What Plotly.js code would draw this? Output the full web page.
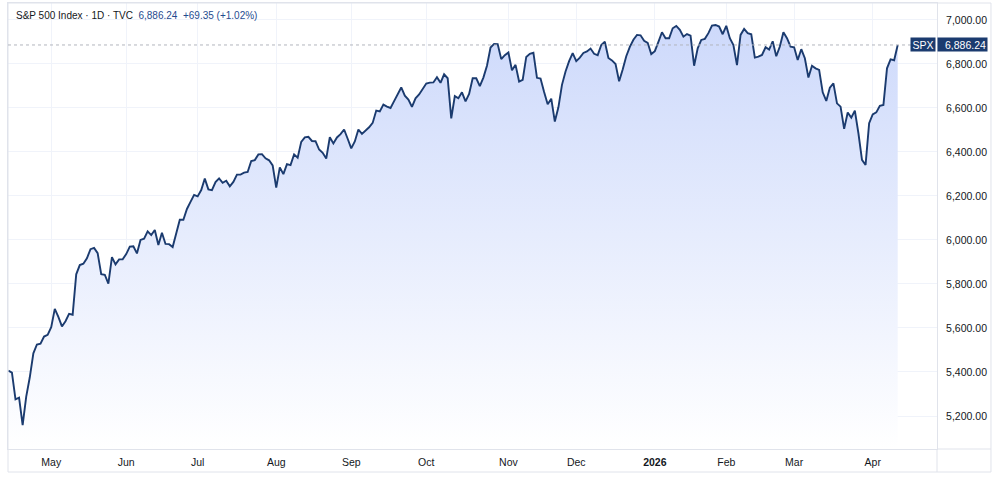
<!DOCTYPE html>
<html>
<head>
<meta charset="utf-8">
<script src="https://cdn.plot.ly/plotly-3.0.1.min.js"></script>
<style>
  html, body { margin: 0; padding: 0; background: #ffffff; }
  #chart { width: 1000px; height: 477px; }
  #debug { position: absolute; top: 0; left: 0; font: 10px monospace; color: red; }
</style>
</head>
<body>
<div id="chart"></div>
<div id="debug"></div>
<script>
// S&P 500 daily closes, one array per month (trading days only)
var apr25 = [5406, 5397, 5276, 5283, 5158, 5288, 5376, 5485, 5525, 5529, 5561, 5569];
var may25 = [5604, 5687, 5650, 5607, 5631, 5664, 5660, 5844, 5886, 5892, 5917, 5958, 5964, 5940, 5845, 5842, 5802, 5922, 5889, 5912, 5912];
var jun25 = [5936, 5970, 5971, 5939, 6000, 6006, 6039, 6022, 6045, 5977, 6033, 5982, 5981, 5968, 6025, 6092, 6092, 6141, 6173, 6205];
var jul25 = [6198, 6227, 6279, 6230, 6226, 6263, 6280, 6260, 6269, 6244, 6264, 6297, 6297, 6306, 6309, 6359, 6363, 6389, 6390, 6371, 6362, 6339];
var aug25 = [6238, 6330, 6299, 6345, 6340, 6389, 6374, 6446, 6466, 6469, 6450, 6449, 6411, 6396, 6370, 6467, 6439, 6466, 6481, 6502, 6460];
var sep25 = [6416, 6448, 6502, 6482, 6495, 6512, 6532, 6588, 6584, 6615, 6606, 6600, 6631, 6664, 6693, 6656, 6638, 6605, 6644, 6661, 6688];
var oct25 = [6711, 6715, 6716, 6740, 6714, 6753, 6735, 6553, 6654, 6644, 6671, 6630, 6664, 6735, 6735, 6699, 6738, 6792, 6875, 6891, 6890, 6822, 6840];
var nov25 = [6852, 6771, 6796, 6720, 6728, 6832, 6846, 6851, 6737, 6734, 6672, 6617, 6642, 6538, 6603, 6705, 6766, 6813, 6849];
var dec25 = [6813, 6829, 6850, 6857, 6870, 6846, 6840, 6886, 6901, 6827, 6816, 6800, 6721, 6775, 6835, 6878, 6910, 6932, 6930, 6905, 6896, 6845];
var jan26 = [6858, 6900, 6944, 6917, 6917, 6962, 6973, 6955, 6924, 6936, 6929, 6792, 6871, 6909, 6914, 6940, 6974, 6977, 6970, 6935];
var feb26 = [6973, 6917, 6886, 6795, 6932, 6959, 6940, 6935, 6829, 6833, 6841, 6876, 6865, 6903, 6835, 6879, 6944, 6917, 6879];
var mar26 = [6876, 6818, 6867, 6826, 6738, 6792, 6780, 6773, 6671, 6632, 6692, 6712, 6621, 6606, 6505, 6579, 6556, 6588, 6485, 6364, 6341, 6531];
var apr26 = [6571, 6580, 6610, 6614, 6780, 6821, 6816.89, 6886.24];

var monthCloses = [apr25, may25, jun25, jul25, aug25, sep25, oct25, nov25, dec25, jan26, feb26, mar26, apr26];
var monthLabels = ['', 'May', 'Jun', 'Jul', 'Aug', 'Sep', 'Oct', 'Nov', 'Dec', '<b>2026</b>', 'Feb', 'Mar', 'Apr'];
var priceTicks = [5200, 5400, 5600, 5800, 6000, 6200, 6400, 6600, 6800, 7000];

var symbol = 'SPX';
var headerTitle = 'S&P 500 Index \u00b7 1D \u00b7 TVC';

var LINE = '#1b3b6f';
var GRID = '#f0f3fa';
var FRAME = '#e0e3eb';
var TEXT = '#131722';
var FONT = 'Liberation Sans, Arial, sans-serif';

function debug(obj) {
    document.getElementById("debug").innerHTML += JSON.stringify(obj);
}

function fmt(v) {
    return v.toLocaleString('en-US', {minimumFractionDigits: 2, maximumFractionDigits: 2});
}

function showChart() {
    try {
        var x = [], y = [];
        var tickvals = [], ticktext = [];
        for (var m = 0; m < monthCloses.length; m++) {
            if (monthLabels[m] !== '') {
                tickvals.push(x.length);
                ticktext.push(monthLabels[m]);
            }
            for (var d = 0; d < monthCloses[m].length; d++) {
                x.push(x.length);
                y.push(monthCloses[m][d]);
            }
        }

        var last = y[y.length - 1];
        var prev = y[y.length - 2];
        var chg = last - prev;
        var pct = chg / prev * 100;
        var sign = chg >= 0 ? '+' : '\u2212';

        var trace = {
            x: x,
            y: y,
            type: 'scatter',
            mode: 'lines',
            line: {color: LINE, width: 1.9},
            fill: 'tozeroy',
            fillgradient: {
                type: 'vertical',
                start: 5050,
                stop: 7000,
                colorscale: [[0, 'rgba(255,255,255,1)'], [1, 'rgba(205,217,251,1)']]
            },
            hoverinfo: 'skip'
        };

        var layout = {
            width: 1000,
            height: 477,
            margin: {l: 8, r: 63, t: 3, b: 28},
            paper_bgcolor: '#ffffff',
            plot_bgcolor: '#ffffff',
            showlegend: false,
            font: {family: FONT, size: 10.5, color: TEXT},
            xaxis: {
                range: [-0.1, 260],
                tickvals: tickvals,
                ticktext: ticktext,
                showgrid: true,
                gridcolor: GRID,
                zeroline: false,
                showline: true,
                linecolor: FRAME,
                mirror: true,
                ticks: '',
                ticklabelstandoff: 3,
                tickfont: {family: FONT, size: 10.5, color: TEXT}
            },
            yaxis: {
                side: 'right',
                range: [5050, 7077],
                tickvals: priceTicks,
                tickformat: ',.2f',
                showgrid: true,
                gridcolor: GRID,
                zeroline: false,
                showline: true,
                linecolor: FRAME,
                mirror: true,
                ticks: '',
                ticklabelstandoff: 6,
                tickfont: {family: FONT, size: 10.5, color: TEXT}
            },
            shapes: [
                // outer frame that also wraps the axis strips
                {type: 'rect', xref: 'paper', yref: 'paper', x0: 0, x1: 1.0581, y0: -0.0516, y1: 1,
                 line: {color: FRAME, width: 1}},
                {type: 'line', xref: 'paper', yref: 'paper', x0: 1, x1: 1, y0: -0.0516, y1: 0,
                 line: {color: FRAME, width: 1}},
                {type: 'line', xref: 'paper', yref: 'paper', x0: 1, x1: 1.0581, y0: 0, y1: 0,
                 line: {color: FRAME, width: 1}},
                // last price line
                {type: 'line', xref: 'paper', yref: 'y', x0: 0, x1: 1, y0: last, y1: last,
                 line: {color: '#b2b5be', width: 1, dash: 'dot'}}
            ],
            annotations: [
                {
                    xref: 'paper', yref: 'paper', x: 0.006, y: 0.9709,
                    xanchor: 'left', yanchor: 'middle', showarrow: false,
                    font: {family: FONT, size: 10, color: TEXT},
                    text: headerTitle + '  <span style="color:#1f4b8f">' + fmt(last) + '  ' +
                        sign + fmt(Math.abs(chg)) + ' (' + sign + fmt(Math.abs(pct)) + '%)</span>'
                },
                {
                    xref: 'paper', yref: 'y', x: 1, y: last, xshift: -1,
                    xanchor: 'right', yanchor: 'middle', showarrow: false,
                    text: symbol, bgcolor: LINE, borderpad: 1, width: 22, height: 11,
                    font: {family: FONT, size: 10.5, color: '#ffffff'}
                },
                {
                    xref: 'paper', yref: 'y', x: 1, y: last,
                    xanchor: 'left', yanchor: 'middle', showarrow: false,
                    text: fmt(last), bgcolor: LINE, borderpad: 1, width: 47, height: 11, align: 'right',
                    font: {family: FONT, size: 10.5, color: '#ffffff'}
                }
            ]
        };

        Plotly.newPlot('chart', [trace], layout, {staticPlot: true, displayModeBar: false});
    } catch (error) {
        debug(error.message);
    }
}

showChart();
</script>
</body>
</html>
